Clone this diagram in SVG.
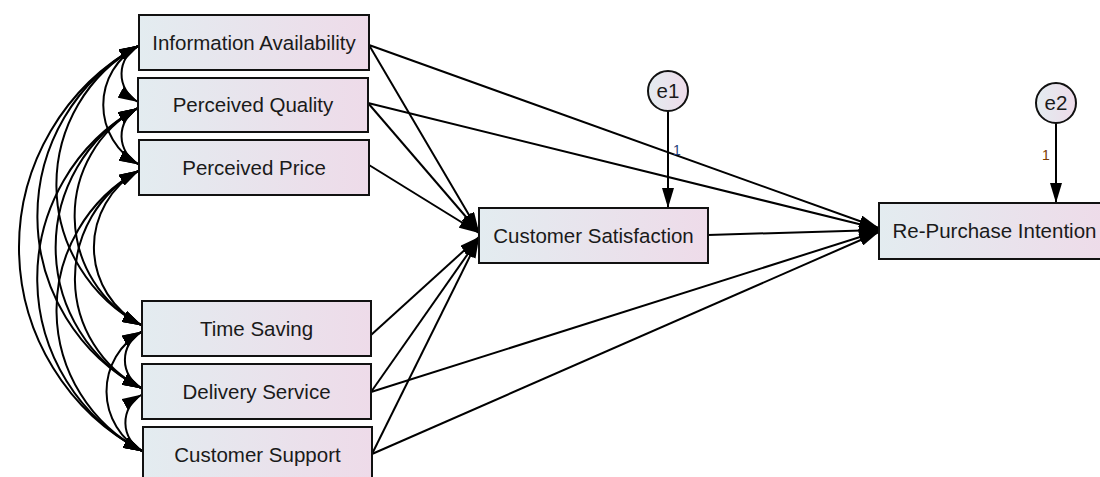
<svg xmlns="http://www.w3.org/2000/svg" width="1100" height="477" viewBox="0 0 1100 477">
  <defs>
    <linearGradient id="fillGrad" x1="0" y1="0" x2="1" y2="0">
      <stop offset="0" stop-color="#e3ecf0"/>
      <stop offset="1" stop-color="#eedbe9"/>
    </linearGradient>
    <marker id="arrow" viewBox="0 0 20 12" refX="20" refY="6" markerWidth="20" markerHeight="12" markerUnits="userSpaceOnUse" orient="auto-start-reverse">
      <path d="M0,0 L20,6 L0,12 z" fill="#000"/>
    </marker>
    <style>
      .box { fill: url(#fillGrad); stroke: #111; stroke-width: 2; }
      .err { fill: url(#fillGrad); stroke: #111; stroke-width: 2; }
      .lbl { font-family: "Liberation Sans", Arial, sans-serif; font-size: 20.5px; fill: #1a1a1a; text-anchor: middle; }
      .path { fill: none; stroke: #000; stroke-width: 2; marker-end: url(#arrow); }
      .cov { fill: none; stroke: #000; stroke-width: 2; marker-start: url(#arrow); marker-end: url(#arrow); }
      .w { font-family: "Liberation Sans", Arial, sans-serif; font-size: 14px; text-anchor: middle; }
    </style>
  </defs>

  <!-- connectors -->
  <g id="connectors">
    <!-- covariances between exogenous variables -->
    <path class="cov" d="M139,45.5 A32,32 0 0 0 138,102"/>
    <path class="cov" d="M139,45.5 A67.4,67.4 0 0 0 139,164.5"/>
    <path class="cov" d="M139,45.5 A158.6,158.6 0 0 0 142,325.5"/>
    <path class="cov" d="M139,45.5 A194.2,194.2 0 0 0 142,388.5"/>
    <path class="cov" d="M139,45.5 A229.9,229.9 0 0 0 143,451.5"/>
    <path class="cov" d="M138,108 A32,32 0 0 0 139,164.5"/>
    <path class="cov" d="M138,108 A123.2,123.2 0 0 0 142,325.5"/>
    <path class="cov" d="M138,108 A158.8,158.8 0 0 0 142,388.5"/>
    <path class="cov" d="M138,108 A194.5,194.5 0 0 0 143,451.5"/>
    <path class="cov" d="M139,170.5 A87.8,87.8 0 0 0 142,325.5"/>
    <path class="cov" d="M139,170.5 A123.4,123.4 0 0 0 142,388.5"/>
    <path class="cov" d="M139,170.5 A159.1,159.1 0 0 0 143,451.5"/>
    <path class="cov" d="M142,331.5 A32.3,32.3 0 0 0 142,388.5"/>
    <path class="cov" d="M142,331.5 A68,68 0 0 0 143,451.5"/>
    <path class="cov" d="M142,394.5 A32.3,32.3 0 0 0 143,451.5"/>

    <!-- regressions on Customer Satisfaction -->
    <line class="path" x1="369" y1="45" x2="479" y2="232"/>
    <line class="path" x1="368" y1="103" x2="479" y2="232"/>
    <line class="path" x1="369" y1="165" x2="479" y2="233"/>
    <line class="path" x1="371" y1="335" x2="479" y2="237"/>
    <line class="path" x1="371" y1="392" x2="479" y2="238"/>
    <line class="path" x1="372" y1="454" x2="479" y2="238"/>

    <!-- regressions on Re-Purchase Intention -->
    <line class="path" x1="369" y1="45" x2="879" y2="228"/>
    <line class="path" x1="368" y1="103" x2="879" y2="229"/>
    <line class="path" x1="708" y1="235" x2="879" y2="230"/>
    <line class="path" x1="371" y1="392" x2="879" y2="231"/>
    <line class="path" x1="372" y1="454" x2="879" y2="232"/>

    <!-- error terms -->
    <line class="path" x1="668" y1="111" x2="668" y2="208"/>
    <line class="path" x1="1056" y1="123" x2="1056" y2="203"/>
    <text class="w" x="677" y="155" fill="#1f3f7a">1</text>
    <text class="w" x="1046" y="160" fill="#7a3a00">1</text>
  </g>

  <!-- observed variables -->
  <g id="information-availability">
    <rect class="box" x="139" y="15" width="230" height="55"/>
    <text class="lbl" x="254" y="49.5">Information Availability</text>
  </g>
  <g id="perceived-quality">
    <rect class="box" x="138" y="78" width="230" height="54"/>
    <text class="lbl" x="253" y="112">Perceived Quality</text>
  </g>
  <g id="perceived-price">
    <rect class="box" x="139" y="140" width="230" height="55"/>
    <text class="lbl" x="254" y="174.5">Perceived Price</text>
  </g>
  <g id="time-saving">
    <rect class="box" x="142" y="301" width="229" height="55"/>
    <text class="lbl" x="256.5" y="335.5">Time Saving</text>
  </g>
  <g id="delivery-service">
    <rect class="box" x="142" y="364" width="229" height="55"/>
    <text class="lbl" x="256.5" y="398.5">Delivery Service</text>
  </g>
  <g id="customer-support">
    <rect class="box" x="143" y="427" width="229" height="55"/>
    <text class="lbl" x="257.5" y="461.5">Customer Support</text>
  </g>
  <g id="customer-satisfaction">
    <rect class="box" x="479" y="208" width="229" height="55"/>
    <text class="lbl" x="593.5" y="242.5">Customer Satisfaction</text>
  </g>
  <g id="re-purchase-intention">
    <rect class="box" x="879" y="203" width="231" height="56"/>
    <text class="lbl" x="994.5" y="238">Re-Purchase Intention</text>
  </g>

  <!-- unobserved errors -->
  <g id="e1">
    <circle class="err" cx="668" cy="91" r="20"/>
    <text class="lbl" x="668" y="98">e1</text>
  </g>
  <g id="e2">
    <circle class="err" cx="1056" cy="103" r="20"/>
    <text class="lbl" x="1056" y="110">e2</text>
  </g>
</svg>
